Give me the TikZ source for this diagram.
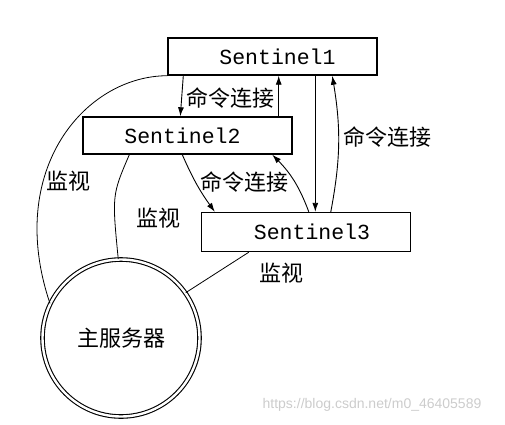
\documentclass[tikz,border=0pt]{standalone}
\usepackage{fontspec}
\newfontfamily\cjk{Noto Sans CJK SC}
\newfontfamily\monof{Liberation Mono}
\newfontfamily\wmfont{Liberation Sans}
\usetikzlibrary{arrows.meta,calc}
\begin{document}
\begin{tikzpicture}[x=1pt,y=-1pt,
  sbox/.style={draw,line width=1.4pt,minimum width=209pt,minimum height=37pt,inner sep=0pt,font=\monof\fontsize{21.5}{23}\selectfont},
  arr/.style={line width=0.9pt,-{Latex[length=9pt,width=6pt]}},
  mon/.style={line width=0.8pt},
  lab/.style={font=\cjk\fontsize{22}{24}\selectfont,inner sep=0pt}]
\useasboundingbox (0,0) rectangle (505,424);
\node[sbox] (s1) at (272.5,56.5) {\hspace*{10pt}Sentinel1};
\node[sbox] (s2) at (187.5,135.5) {Sentinel2\hspace*{10pt}};
\node[sbox,minimum height=39pt] (s3) at (306,232) {\hspace*{12pt}Sentinel3};
\node[circle,draw,double,line width=1.1pt,double distance=2.4pt,minimum size=157pt,inner sep=0pt,font=\cjk\fontsize{22}{24}\selectfont] (c) at (121,338) {主服务器};
% command connections
\coordinate (a1) at ($(s1.south west)+(16,0)$);
\coordinate (a2) at ($(s2.north west)+(98,0)$);
\draw[arr] (a1) -- (a2);
\coordinate (b1) at ($(s2.north east)+(-14,0)$);
\draw[arr] (b1) -- (b1 |- s1.south);
\coordinate (d1) at ($(s1.south west)+(148,0)$);
\draw[arr] (d1) -- (d1 |- s3.north);
\coordinate (e1) at ($(s3.north west)+(130,0)$);
\coordinate (e2) at ($(s1.south west)+(165,0)$);
\draw[arr] (e1) to[bend right=10] (e2);
\coordinate (f1) at ($(s2.south west)+(100,0)$);
\coordinate (f2) at ($(s3.north west)+(14,0)$);
\draw[arr] (f1) to[bend right=6] (f2);
\coordinate (g1) at ($(s3.north west)+(108,0)$);
\coordinate (g2) at ($(s2.south west)+(190,0)$);
\draw[arr] (g1) to[bend right=12] (g2);
\node[lab] (l1) at (230,98) {命令连接};
\node[lab] (l2) at (387,137) {命令连接};
\node[lab] (l3) at (244,182) {命令连接};
% monitoring
\draw[mon] (s1.south west) .. controls (85,76) and (5,170) .. (c.154);
\coordinate (h1) at ($(s2.south west)+(47,0)$);
\draw[mon] (h1) .. controls (112,195) .. (c.92);
\coordinate (k1) at ($(s3.south west)+(48,0)$);
\draw[mon] (k1) -- (c.35);
\node[lab] (m1) at (68,181) {监视};
\node[lab] (m2) at (158,218) {监视};
\node[lab] (m3) at (281,273) {监视};
\node[font=\wmfont\fontsize{14}{16}\selectfont,text=black!20,inner sep=0pt] (wm) at (372,405) {https://blog.csdn.net/m0\_46405589};
\end{tikzpicture}
\end{document}
